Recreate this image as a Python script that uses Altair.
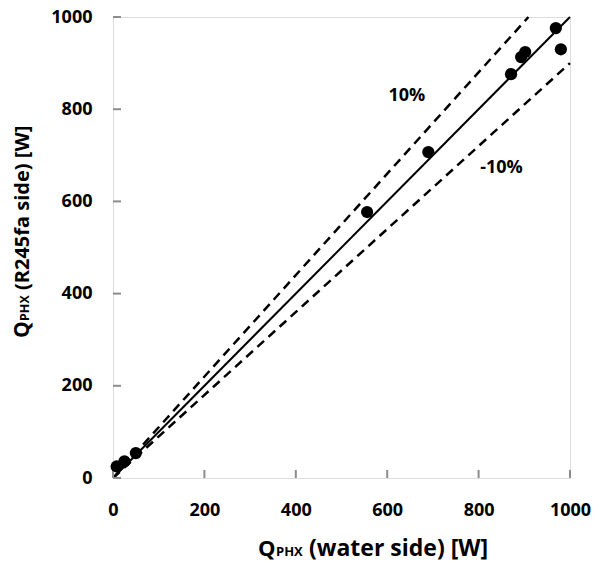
import altair as alt
import pandas as pd

# Measured data (W)
water_side = [8, 25, 50, 556, 690, 871, 893, 902, 969, 980]
r245fa_side = [25, 36, 54, 577, 707, 876, 913, 924, 976, 930]

# Reference lines: y = x, +10 %, -10 %
line_names = ["0%", "0%", "+10%", "+10%", "-10%", "-10%"]
line_x = [0, 1000, 0, 909.09, 0, 1000]
line_y = [0, 1000, 0, 1000, 0, 900]

# Tick values
tick_values = [0, 200, 400, 600, 800, 1000]

# Annotations
label_text = ["10%", "-10%"]
label_x = [643, 850]
label_y = [829, 672]

W, H = 457, 461
FONT = "Open Sans"
GRAY = "#8c8c8c"

pts = pd.DataFrame({"x": water_side, "y": r245fa_side})
lines = pd.DataFrame({"name": line_names, "x": line_x, "y": line_y})
ticks = pd.DataFrame({"v": tick_values})
labels = pd.DataFrame({"t": label_text, "x": label_x, "y": label_y})

xs = alt.Scale(domain=[0, 1000], nice=False)
ys = alt.Scale(domain=[0, 1000], nice=False)

x_axis = alt.Axis(values=tick_values, ticks=False, domain=False, grid=False,
                  format="d", labelFlush=False, labelOverlap=False,
                  labelFont=FONT, labelFontSize=18, labelFontWeight="bold",
                  labelColor="black", labelPadding=23, title=None)
y_axis = alt.Axis(values=tick_values, ticks=False, domain=False, grid=False,
                  format="d", labelFlush=False, labelOverlap=False,
                  labelFont=FONT, labelFontSize=18, labelFontWeight="bold",
                  labelColor="black", labelPadding=21, title=None)

points = alt.Chart(pts).mark_circle(size=150, color="black", opacity=1).encode(
    x=alt.X("x:Q", scale=xs, axis=x_axis),
    y=alt.Y("y:Q", scale=ys, axis=y_axis),
)

solid = alt.Chart(lines).transform_filter(alt.datum.name == "0%").mark_line(
    color="black", strokeWidth=2).encode(
    x=alt.X("x:Q", scale=xs), y=alt.Y("y:Q", scale=ys), detail="name:N")

dashed = alt.Chart(lines).transform_filter(alt.datum.name != "0%").mark_line(
    color="black", strokeWidth=2.5, strokeDash=[9, 6]).encode(
    x=alt.X("x:Q", scale=xs), y=alt.Y("y:Q", scale=ys), detail="name:N")

xticks = alt.Chart(ticks).mark_rule(color=GRAY, strokeWidth=2).encode(
    x=alt.X("v:Q", scale=xs), y=alt.value(H), y2=alt.value(H - 8))
yticks = alt.Chart(ticks).mark_rule(color=GRAY, strokeWidth=2).encode(
    y=alt.Y("v:Q", scale=ys), x=alt.value(0), x2=alt.value(8))

ann = alt.Chart(labels).mark_text(font=FONT, fontSize=18, fontWeight="bold",
                                  color="black").encode(
    x=alt.X("x:Q", scale=xs), y=alt.Y("y:Q", scale=ys), text="t:N")

# Axis titles with subscript
def txt(s, x, y, size, angle=0):
    return alt.Chart(pd.DataFrame({"a": [0]})).mark_text(
        font=FONT, fontSize=size, fontWeight="bold", color="black",
        align="left", baseline="alphabetic", angle=angle).encode(
        x=alt.value(x), y=alt.value(y), text=alt.value(s))

xt = [txt("Q", 145, 539, 22), txt("PHX", 163, 539, 13),
      txt("(water side) [W]", 196, 539, 23)]
yt = [txt("Q", -84, 321, 21, 270), txt("PHX", -84, 304, 12.5, 270),
      txt("(R245fa side) [W]", -84, 273, 20, 270)]

chart = alt.layer(dashed, solid, xticks, yticks, points, ann, *xt, *yt).properties(
    width=W, height=H,
    autosize=alt.AutoSizeParams(type="none"),
    padding={"left": 113, "top": 17, "right": 27, "bottom": 94},
).configure_view(stroke=GRAY, strokeWidth=2).configure(background="white")

chart.save("out.html", embed_options={"renderer": "svg", "actions": False})
